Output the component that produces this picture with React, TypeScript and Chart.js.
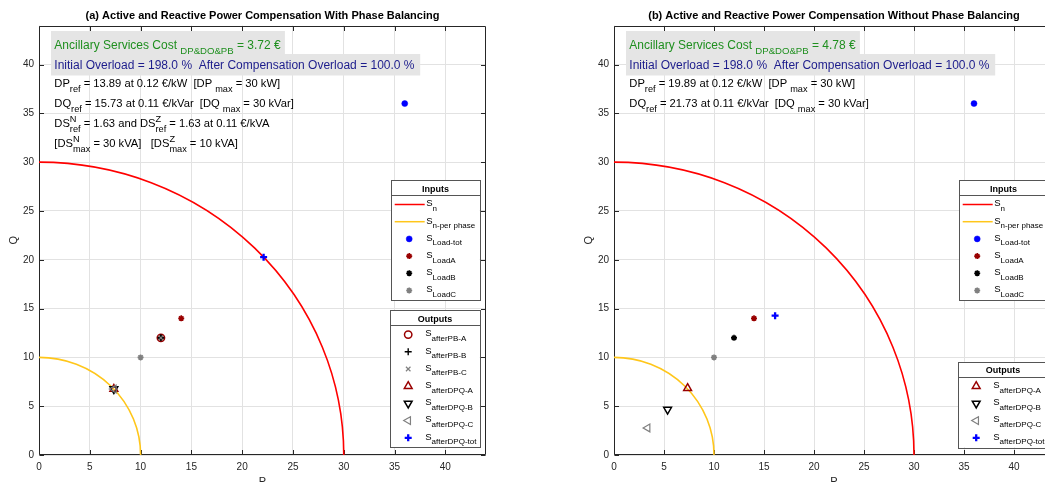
import React, { useEffect, useRef } from 'react';
import { Chart, registerables } from 'chart.js';
import { drawPoint } from 'chart.js/helpers';

Chart.register(...registerables);

const FONT = '"Liberation Sans", Arial, Helvetica, sans-serif';

// ---------------- data ----------------
const xTickValues = [0, 5, 10, 15, 20, 25, 30, 35, 40];
const yTickValues = [0, 5, 10, 15, 20, 25, 30, 35, 40];
const xLimits = [0, 44];
const yLimits = [0, 44];

const ratingRadius = 30; // S_n
const perPhaseRadius = 10; // S_n-per phase

const loadTot = [36, 36];
const loadA = [14, 14];
const loadB = [12, 12];
const loadC = [10, 10];

// panel (a) with phase balancing
const aAfterPbA = [12, 12];
const aAfterPbB = [12, 12];
const aAfterPbC = [12, 12];
const aAfterDpqA = [7.37, 6.76];
const aAfterDpqB = [7.37, 6.76];
const aAfterDpqC = [7.37, 6.76];
const aAfterDpqTot = [22.11, 20.27];

// panel (b) without phase balancing
const bAfterDpqA = [7.36, 6.84];
const bAfterDpqB = [5.36, 4.66];
const bAfterDpqC = [3.36, 2.77];
const bAfterDpqTot = [16.11, 14.27];

const panelTitles = [
  '(a) Active and Reactive Power Compensation With Phase Balancing',
  '(b) Active and Reactive Power Compensation Without Phase Balancing',
];
const costValues = ['3.72', '4.78'];
const dpRefValues = ['13.89', '19.89'];
const dqRefValues = ['15.73', '21.73'];

// ---------------- styles ----------------
const DARKRED = '#990000';
const GRAY = '#808080';
const BLUE = '#0000ff';
const RED = '#ff0000';
const YELLOW = '#ffc61a';

type MStyle = { pointStyle: any; radius: number; rotation?: number; borderWidth: number; color: string; fill: string };
const markerStyles: Record<string, MStyle> = {
  loadTot: { pointStyle: 'circle', radius: 3, borderWidth: 0.5, color: BLUE, fill: BLUE },
  loadA: { pointStyle: 'star', radius: 3, borderWidth: 1.6, color: DARKRED, fill: DARKRED },
  loadB: { pointStyle: 'star', radius: 3, borderWidth: 1.6, color: '#000000', fill: '#000000' },
  loadC: { pointStyle: 'star', radius: 3, borderWidth: 1.6, color: GRAY, fill: GRAY },
  afterPbA: { pointStyle: 'circle', radius: 3.7, borderWidth: 1.5, color: DARKRED, fill: 'rgba(0,0,0,0)' },
  afterPbB: { pointStyle: 'cross', radius: 3.5, borderWidth: 1.4, color: '#000000', fill: 'rgba(0,0,0,0)' },
  afterPbC: { pointStyle: 'crossRot', radius: 3.2, borderWidth: 1.2, color: GRAY, fill: 'rgba(0,0,0,0)' },
  afterDpqA: { pointStyle: 'triangle', radius: 4.5, rotation: 0, borderWidth: 1.5, color: DARKRED, fill: 'rgba(0,0,0,0)' },
  afterDpqB: { pointStyle: 'triangle', radius: 4.5, rotation: 180, borderWidth: 1.5, color: '#000000', fill: 'rgba(0,0,0,0)' },
  afterDpqC: { pointStyle: 'triangle', radius: 4.5, rotation: 270, borderWidth: 1.2, color: GRAY, fill: 'rgba(0,0,0,0)' },
  afterDpqTot: { pointStyle: 'cross', radius: 3.5, borderWidth: 2.3, color: BLUE, fill: BLUE },
};

type Run = { t?: string; sub?: string; sup?: string };
type LegendEntry = { kind: 'line' | 'marker'; key: string; sub: string };
type LegendDef = { title: string; entries: LegendEntry[]; width: number; top?: number; bottomGap?: number };

const inputsLegend: LegendDef = {
  title: 'Inputs',
  width: 88.5,
  top: 180,
  entries: [
    { kind: 'line', key: 'sn', sub: 'n' },
    { kind: 'line', key: 'snp', sub: 'n-per phase' },
    { kind: 'marker', key: 'loadTot', sub: 'Load-tot' },
    { kind: 'marker', key: 'loadA', sub: 'LoadA' },
    { kind: 'marker', key: 'loadB', sub: 'LoadB' },
    { kind: 'marker', key: 'loadC', sub: 'LoadC' },
  ],
};
const outputsLegendA: LegendDef = {
  title: 'Outputs',
  width: 89.5,
  bottomGap: 7.7,
  entries: [
    { kind: 'marker', key: 'afterPbA', sub: 'afterPB-A' },
    { kind: 'marker', key: 'afterPbB', sub: 'afterPB-B' },
    { kind: 'marker', key: 'afterPbC', sub: 'afterPB-C' },
    { kind: 'marker', key: 'afterDpqA', sub: 'afterDPQ-A' },
    { kind: 'marker', key: 'afterDpqB', sub: 'afterDPQ-B' },
    { kind: 'marker', key: 'afterDpqC', sub: 'afterDPQ-C' },
    { kind: 'marker', key: 'afterDpqTot', sub: 'afterDPQ-tot' },
  ],
};
const outputsLegendB: LegendDef = {
  title: 'Outputs',
  width: 89.5,
  bottomGap: 7.7,
  entries: [
    { kind: 'marker', key: 'afterDpqA', sub: 'afterDPQ-A' },
    { kind: 'marker', key: 'afterDpqB', sub: 'afterDPQ-B' },
    { kind: 'marker', key: 'afterDpqC', sub: 'afterDPQ-C' },
    { kind: 'marker', key: 'afterDpqTot', sub: 'afterDPQ-tot' },
  ],
};

const blueRuns: Run[] = [{ t: 'Initial Overload = 198.0 %  After Compensation Overload = 100.0 %' }];

type Panel = {
  title: string;
  points: [string, number[]][];
  greenRuns: Run[];
  blackRuns: Run[][];
  legends: LegendDef[];
  canvasLeft: number;
  canvasWidth: number;
  padLeft: number;
  padRight: number;
};

const panels: Panel[] = [
  {
    title: panelTitles[0],
    points: [
      ['loadTot', loadTot], ['loadA', loadA], ['loadB', loadB], ['loadC', loadC],
      ['afterPbA', aAfterPbA], ['afterPbB', aAfterPbB], ['afterPbC', aAfterPbC],
      ['afterDpqA', aAfterDpqA], ['afterDpqB', aAfterDpqB], ['afterDpqC', aAfterDpqC],
      ['afterDpqTot', aAfterDpqTot],
    ],
    greenRuns: [{ t: 'Ancillary Services Cost ' }, { sub: 'DP&DQ&PB' }, { t: ' = ' + costValues[0] + ' €' }],
    blackRuns: [
      [{ t: 'DP' }, { sub: 'ref' }, { t: ' = ' + dpRefValues[0] + ' at 0.12 €/kW  [DP ' }, { sub: 'max' }, { t: ' = 30 kW]' }],
      [{ t: 'DQ' }, { sub: 'ref' }, { t: ' = ' + dqRefValues[0] + ' at 0.11 €/kVar  [DQ ' }, { sub: 'max' }, { t: ' = 30 kVar]' }],
      [{ t: 'DS' }, { sup: 'N', sub: 'ref' }, { t: ' = 1.63 and DS' }, { sup: 'Z', sub: 'ref' }, { t: ' = 1.63 at 0.11 €/kVA' }],
      [{ t: '[DS' }, { sup: 'N', sub: 'max' }, { t: ' = 30 kVA]   [DS' }, { sup: 'Z', sub: 'max' }, { t: ' = 10 kVA]' }],
    ],
    legends: [inputsLegend, outputsLegendA],
    canvasLeft: 0,
    canvasWidth: 500,
    padLeft: 0,
    padRight: 14,
  },
  {
    title: panelTitles[1],
    points: [
      ['loadTot', loadTot], ['loadA', loadA], ['loadB', loadB], ['loadC', loadC],
      ['afterDpqA', bAfterDpqA], ['afterDpqB', bAfterDpqB], ['afterDpqC', bAfterDpqC],
      ['afterDpqTot', bAfterDpqTot],
    ],
    greenRuns: [{ t: 'Ancillary Services Cost ' }, { sub: 'DP&DQ&PB' }, { t: ' = ' + costValues[1] + ' €' }],
    blackRuns: [
      [{ t: 'DP' }, { sub: 'ref' }, { t: ' = ' + dpRefValues[1] + ' at 0.12 €/kW  [DP ' }, { sub: 'max' }, { t: ' = 30 kW]' }],
      [{ t: 'DQ' }, { sub: 'ref' }, { t: ' = ' + dqRefValues[1] + ' at 0.11 €/kVar  [DQ ' }, { sub: 'max' }, { t: ' = 30 kVar]' }],
    ],
    legends: [inputsLegend, outputsLegendB],
    canvasLeft: 530,
    canvasWidth: 540,
    padLeft: 45,
    padRight: 16,
  },
];

// ---------------- drawing helpers ----------------
function drawRuns(
  ctx: CanvasRenderingContext2D, runs: Run[], x: number, base: number,
  size: number, subSize: number, color: string, subDy: number, supDy: number, draw = true,
): number {
  let cx = x;
  ctx.fillStyle = color;
  ctx.textAlign = 'left';
  ctx.textBaseline = 'alphabetic';
  for (const r of runs) {
    if (r.t !== undefined) {
      ctx.font = `${size}px ${FONT}`;
      if (draw) ctx.fillText(r.t, cx, base);
      cx += ctx.measureText(r.t).width;
    } else {
      ctx.font = `${subSize}px ${FONT}`;
      let w = 0;
      if (r.sup) {
        if (draw) ctx.fillText(r.sup, cx, base - supDy);
        w = Math.max(w, ctx.measureText(r.sup).width);
      }
      if (r.sub) {
        if (draw) ctx.fillText(r.sub, cx, base + subDy);
        w = Math.max(w, ctx.measureText(r.sub).width);
      }
      cx += w;
    }
  }
  return cx - x;
}

function drawMarker(ctx: CanvasRenderingContext2D, key: string, x: number, y: number) {
  const s = markerStyles[key];
  ctx.save();
  ctx.fillStyle = s.fill;
  ctx.strokeStyle = s.color;
  ctx.lineWidth = s.borderWidth;
  drawPoint(ctx, { pointStyle: s.pointStyle, radius: s.radius, rotation: s.rotation || 0, borderWidth: s.borderWidth } as any, x, y);
  ctx.restore();
}

const ROW = 17.2;
function drawLegend(ctx: CanvasRenderingContext2D, lg: LegendDef, right: number, caBottom: number) {
  const n = lg.entries.length;
  const height = 15 + 9.5 * 2 + (n - 1) * ROW;
  const left = right - lg.width;
  const top = lg.top !== undefined ? lg.top : caBottom - (lg.bottomGap || 0) - height;
  ctx.save();
  ctx.fillStyle = '#ffffff';
  ctx.fillRect(left, top, lg.width, height);
  ctx.strokeStyle = '#555555';
  ctx.lineWidth = 1;
  const l = Math.round(left) + 0.5, t = Math.round(top) + 0.5;
  const w = Math.round(lg.width), h = Math.round(height);
  ctx.strokeRect(l, t, w, h);
  ctx.beginPath();
  ctx.moveTo(l, t + 15);
  ctx.lineTo(l + w, t + 15);
  ctx.stroke();
  ctx.fillStyle = '#000000';
  ctx.font = `bold 9px ${FONT}`;
  ctx.textAlign = 'center';
  ctx.textBaseline = 'alphabetic';
  ctx.fillText(lg.title, left + lg.width / 2, top + 11.7);
  lg.entries.forEach((e, i) => {
    const y = top + 15 + 9.5 + i * ROW;
    if (e.kind === 'line') {
      ctx.strokeStyle = e.key === 'sn' ? RED : YELLOW;
      ctx.lineWidth = 1.5;
      ctx.beginPath();
      ctx.moveTo(left + 3.5, y);
      ctx.lineTo(left + 33.5, y);
      ctx.stroke();
    } else {
      drawMarker(ctx, e.key, left + 18, y);
    }
    drawRuns(ctx, [{ t: 'S' }, { sub: e.sub }], left + 35, y + 1.8, 9.5, 8, '#000000', 4.6, 0);
  });
  ctx.restore();
}

function decorPlugin(panel: Panel) {
  return {
    id: 'decor',
    beforeDatasetsDraw(chart: any) {
      const { ctx, chartArea: ca, scales } = chart;
      const x = scales.x, y = scales.y;
      ctx.save();
      // axes box + inward ticks
      ctx.strokeStyle = '#262626';
      ctx.lineWidth = 1;
      const L = Math.round(ca.left) + 0.5, R = Math.round(ca.right) - 0.5;
      const T = Math.round(ca.top) + 0.5, B = Math.round(ca.bottom) - 0.5;
      ctx.beginPath();
      ctx.rect(L, T, R - L, B - T);
      for (const v of xTickValues) {
        const px = Math.round(x.getPixelForValue(v)) + 0.5;
        ctx.moveTo(px, B); ctx.lineTo(px, B - 4.5);
        ctx.moveTo(px, T); ctx.lineTo(px, T + 4.5);
      }
      for (const v of yTickValues) {
        const py = Math.round(y.getPixelForValue(v)) + 0.5;
        ctx.moveTo(L, py); ctx.lineTo(L + 4.5, py);
        ctx.moveTo(R, py); ctx.lineTo(R - 4.5, py);
      }
      ctx.stroke();
      // capability arcs
      const cx = x.getPixelForValue(0), cy = y.getPixelForValue(0);
      const arcs: [number, string][] = [[ratingRadius, RED], [perPhaseRadius, YELLOW]];
      for (const [r, col] of arcs) {
        const rx = x.getPixelForValue(r) - cx;
        const ry = cy - y.getPixelForValue(r);
        ctx.beginPath();
        ctx.ellipse(cx, cy, rx, ry, 0, -Math.PI / 2, 0);
        ctx.strokeStyle = col;
        ctx.lineWidth = 1.6;
        ctx.stroke();
      }
      ctx.restore();
    },
    afterDatasetsDraw(chart: any) {
      const { ctx, chartArea: ca } = chart;
      ctx.save();
      const mid = (ca.left + ca.right) / 2;
      // title
      ctx.fillStyle = '#000000';
      ctx.font = `bold 11px ${FONT}`;
      ctx.textAlign = 'center';
      ctx.textBaseline = 'alphabetic';
      ctx.fillText(panel.title, mid, 19);
      // axis labels
      ctx.fillStyle = '#262626';
      ctx.font = `11px ${FONT}`;
      ctx.textBaseline = 'top';
      ctx.fillText('P', mid, 476);
      ctx.save();
      ctx.translate(ca.left - 25, (ca.top + ca.bottom) / 2);
      ctx.rotate(-Math.PI / 2);
      ctx.textBaseline = 'middle';
      ctx.fillText('Q', 0, 0);
      ctx.restore();
      // annotation boxes
      const tx = ca.left + 15.3;
      const gw = drawRuns(ctx, panel.greenRuns, tx, 48.7, 12, 9.6, '#1f8f1f', 5, 0, false);
      ctx.fillStyle = '#e5e5e5';
      ctx.fillRect(tx - 3.3, 31, gw + 7.5, 23);
      drawRuns(ctx, panel.greenRuns, tx, 48.7, 12, 9.6, '#1f8f1f', 5, 0);
      const bw = drawRuns(ctx, blueRuns, tx, 69.3, 12, 9.6, '#1c1c8c', 5, 0, false);
      ctx.fillStyle = '#e5e5e5';
      ctx.fillRect(tx - 3.3, 54, bw + 9, 21.5);
      drawRuns(ctx, blueRuns, tx, 69.3, 12, 9.6, '#1c1c8c', 5, 0);
      panel.blackRuns.forEach((runs, i) => {
        drawRuns(ctx, runs, tx, 86.7 + i * 20, 11.2, 9.2, '#000000', 5.4, 4.8);
      });
      // legends
      for (const lg of panel.legends) drawLegend(ctx, lg, ca.right - 6.3, ca.bottom);
      ctx.restore();
    },
  };
}

function buildConfig(panel: Panel): any {
  const datasets = panel.points.map(([key, pt], i) => {
    const s = markerStyles[key];
    return {
      label: key,
      data: [{ x: pt[0], y: pt[1] }],
      showLine: false,
      pointStyle: s.pointStyle,
      pointRadius: s.radius,
      pointRotation: s.rotation || 0,
      pointBorderWidth: s.borderWidth,
      pointBorderColor: s.color,
      pointBackgroundColor: s.fill,
      order: -i,
    };
  });
  const tickFont = { family: FONT, size: 10 };
  return {
    type: 'scatter',
    data: { datasets },
    options: {
      animation: false,
      responsive: false,
      devicePixelRatio: 1,
      events: [],
      layout: { padding: { left: panel.padLeft, right: panel.padRight, top: 25.5, bottom: 0 } },
      scales: {
        x: {
          type: 'linear',
          min: xLimits[0],
          max: xLimits[1],
          afterBuildTicks: (s: any) => { s.ticks = xTickValues.map((v) => ({ value: v })); },
          afterFit: (s: any) => { s.height = 27; },
          grid: { color: '#e2e2e2', lineWidth: 1, drawTicks: false },
          border: { display: false },
          ticks: { color: '#262626', font: tickFont, padding: 6, maxRotation: 0, autoSkip: false },
        },
        y: {
          type: 'linear',
          min: yLimits[0],
          max: yLimits[1],
          afterBuildTicks: (s: any) => { s.ticks = yTickValues.map((v) => ({ value: v })); },
          afterFit: (s: any) => { s.width = 39; },
          grid: { color: '#e2e2e2', lineWidth: 1, drawTicks: false },
          border: { display: false },
          ticks: { color: '#262626', font: tickFont, padding: 5, autoSkip: false },
        },
      },
      plugins: {
        legend: { display: false },
        tooltip: { enabled: false },
        title: { display: false },
      },
    },
    plugins: [decorPlugin(panel)],
  };
}

function PanelChart({ panel }: { panel: Panel }) {
  const ref = useRef<HTMLCanvasElement>(null);
  useEffect(() => {
    if (!ref.current) return;
    const chart = new Chart(ref.current, buildConfig(panel));
    return () => chart.destroy();
  }, [panel]);
  return (
    <canvas
      ref={ref}
      width={panel.canvasWidth}
      height={482}
      style={{ position: 'absolute', left: panel.canvasLeft, top: 0, width: panel.canvasWidth, height: 482 }}
    />
  );
}

export default function App() {
  return (
    <div style={{ position: 'fixed', left: 0, top: 0, width: 1045, height: 482, overflow: 'hidden', background: '#ffffff' }}>
      {panels.map((p, i) => (
        <PanelChart key={i} panel={p} />
      ))}
    </div>
  );
}
